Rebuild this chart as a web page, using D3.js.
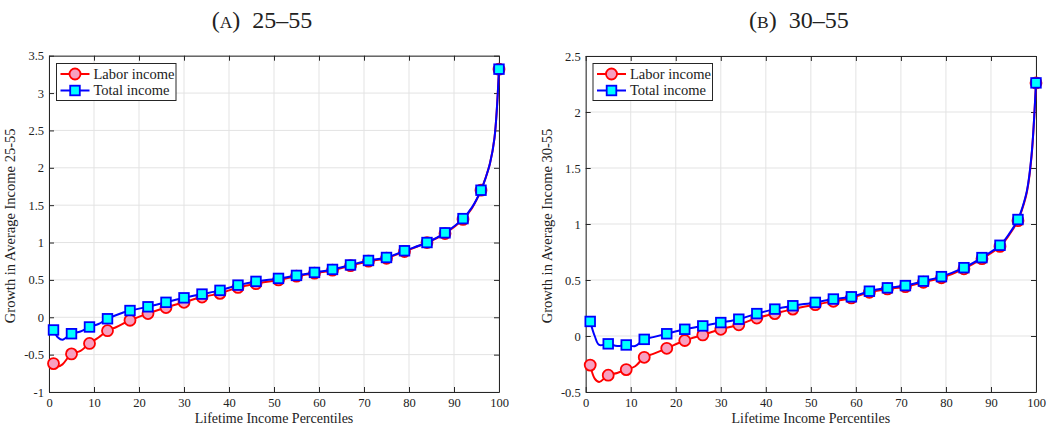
<!DOCTYPE html>
<html>
<head>
<meta charset="utf-8">
<script src="https://cdn.jsdelivr.net/npm/d3@7"></script>
<style>
  body { margin: 0; background: #fff; }
  svg { display: block; }
  text { font-family: "Liberation Serif", "DejaVu Serif", serif; fill: #222; }
</style>
</head>
<body>
<svg id="chart" width="1055" height="427"></svg>
<script>
// ---------- DATA ----------
const linePct = [1,2,3,5,7,9,11,13,15,18,22,26,30,34,38,42,46,51,55,59,63,67,71,75,79,84,88,92,94,96,97,98,99,100];
const markerPct = [1,5,9,13,18,22,26,30,34,38,42,46,51,55,59,63,67,71,75,79,84,88,92,96,100];

// Panel A: 25-55
const laborA = [-0.62,-0.66,-0.63,-0.49,-0.45,-0.35,-0.27,-0.18,-0.13,-0.04,0.05,0.13,0.20,0.27,0.32,0.40,0.45,0.50,0.55,0.59,0.63,0.69,0.75,0.79,0.88,1.00,1.12,1.31,1.46,1.70,1.86,2.06,2.40,3.32];
const totalA = [-0.17,-0.27,-0.30,-0.22,-0.19,-0.13,-0.09,-0.02,0.03,0.09,0.14,0.20,0.26,0.31,0.36,0.43,0.48,0.52,0.56,0.60,0.64,0.70,0.76,0.80,0.89,1.00,1.13,1.32,1.47,1.70,1.86,2.06,2.40,3.32];

// Panel B: 30-55
const laborB = [-0.26,-0.38,-0.41,-0.35,-0.33,-0.30,-0.27,-0.19,-0.16,-0.11,-0.04,0.01,0.06,0.10,0.16,0.20,0.24,0.28,0.31,0.34,0.39,0.42,0.44,0.48,0.52,0.60,0.69,0.80,0.90,1.03,1.14,1.29,1.60,2.26];
const totalB = [0.13,0.00,-0.08,-0.07,-0.09,-0.08,-0.09,-0.03,-0.01,0.02,0.06,0.09,0.12,0.15,0.20,0.24,0.27,0.30,0.33,0.35,0.40,0.43,0.45,0.49,0.53,0.61,0.70,0.81,0.91,1.04,1.15,1.30,1.61,2.26];

const xTicks = [0,10,20,30,40,50,60,70,80,90,100];
const yTicksA = [-1,-0.5,0,0.5,1,1.5,2,2.5,3,3.5];
const yTicksB = [-0.5,0,0.5,1,1.5,2,2.5];
const seriesNames = ["Labor income","Total income"];
const titles = [["A","25\u201355"],["B","30\u201355"]];
const yLabels = ["Growth in Average Income 25-55","Growth in Average Income 30-55"];
const xLabel = "Lifetime Income Percentiles";

// ---------- DRAW ----------
const svg = d3.select("#chart");
const fmt = v => String(v);

function panel(cfg) {
  const {left, right, top, bottom, yDomain, yTicks, labor, total, title, yLabel, legendX} = cfg;
  const x = d3.scaleLinear().domain([0,100]).range([left,right]);
  const y = d3.scaleLinear().domain(yDomain).range([bottom,top]);
  const g = svg.append("g");

  // grid
  g.append("g").selectAll("line").data(xTicks).join("line")
    .attr("x1", d => x(d)).attr("x2", d => x(d)).attr("y1", top).attr("y2", bottom)
    .attr("stroke", "#e3e3e3").attr("stroke-width", 1);
  g.append("g").selectAll("line").data(yTicks).join("line")
    .attr("x1", left).attr("x2", right).attr("y1", d => y(d)).attr("y2", d => y(d))
    .attr("stroke", "#e3e3e3").attr("stroke-width", 1);

  // axes (ticks inward, mirrored)
  const ax = [
    d3.axisBottom(x).tickValues(xTicks).tickFormat(fmt).tickSizeInner(-5).tickSizeOuter(0).tickPadding(6),
    d3.axisTop(x).tickValues(xTicks).tickFormat("").tickSizeInner(-5).tickSizeOuter(0),
    d3.axisLeft(y).tickValues(yTicks).tickFormat(fmt).tickSizeInner(-5).tickSizeOuter(0).tickPadding(5),
    d3.axisRight(y).tickValues(yTicks).tickFormat("").tickSizeInner(-5).tickSizeOuter(0)
  ];
  const tr = [`translate(0,${bottom})`,`translate(0,${top})`,`translate(${left},0)`,`translate(${right},0)`];
  ax.forEach((a,i) => {
    const ag = g.append("g").attr("transform", tr[i]).call(a);
    ag.select(".domain").attr("stroke", "#262626").attr("stroke-width", 1);
    ag.selectAll(".tick line").attr("stroke", "#262626");
    ag.selectAll("text").attr("font-family", "'Liberation Serif', serif").attr("font-size", 12.5).attr("fill", "#262626");
  });

  // lines
  const mk = vals => linePct.map((p,i) => [p, vals[i]]);
  const line = d3.line().x(d => x(d[0])).y(d => y(d[1])).curve(d3.curveCatmullRom.alpha(0.5));
  const mset = new Set(markerPct);
  const seriesData = [
    {vals: labor, color: "#ff0000", fill: "#f7a0c0", shape: "circle"},
    {vals: total, color: "#0000ff", fill: "#00ffff", shape: "square"}
  ];
  seriesData.forEach(s => {
    const pts = mk(s.vals);
    g.append("path").datum(pts).attr("d", line).attr("fill", "none")
      .attr("stroke", s.color).attr("stroke-width", 2);
    const mp = pts.filter(d => mset.has(d[0]));
    if (s.shape === "circle") {
      g.append("g").selectAll("circle").data(mp).join("circle")
        .attr("cx", d => x(d[0])).attr("cy", d => y(d[1])).attr("r", 5.5)
        .attr("fill", s.fill).attr("stroke", s.color).attr("stroke-width", 1.8);
    } else {
      g.append("g").selectAll("rect").data(mp).join("rect")
        .attr("x", d => x(d[0]) - 4.8).attr("y", d => y(d[1]) - 4.8)
        .attr("width", 9.6).attr("height", 9.6)
        .attr("fill", s.fill).attr("stroke", s.color).attr("stroke-width", 1.8);
    }
  });

  // legend
  const lg = g.append("g").attr("transform", `translate(${legendX},63.5)`);
  lg.append("rect").attr("width", 119.5).attr("height", 37).attr("fill", "#fff")
    .attr("stroke", "#262626").attr("stroke-width", 1);
  seriesData.forEach((s,i) => {
    const yy = 10.5 + i*16.5;
    lg.append("line").attr("x1", 4).attr("x2", 33).attr("y1", yy).attr("y2", yy)
      .attr("stroke", s.color).attr("stroke-width", 2);
    if (s.shape === "circle") {
      lg.append("circle").attr("cx", 18.5).attr("cy", yy).attr("r", 5.5)
        .attr("fill", s.fill).attr("stroke", s.color).attr("stroke-width", 1.8);
    } else {
      lg.append("rect").attr("x", 13.7).attr("y", yy - 4.8).attr("width", 9.6).attr("height", 9.6)
        .attr("fill", s.fill).attr("stroke", s.color).attr("stroke-width", 1.8);
    }
    lg.append("text").attr("x", 37).attr("y", yy + 4.6).attr("font-size", 14.5)
      .attr("fill", "#111").text(seriesNames[i]);
  });

  // title
  const t = svg.append("text").attr("x", (left+right)/2 - 12).attr("y", 28)
    .attr("text-anchor", "middle").attr("font-size", 24).attr("fill", "#111");
  t.append("tspan").text("(");
  t.append("tspan").attr("font-size", 17.5).text(title[0]);
  t.append("tspan").text(")\u2002" + title[1]);

  // axis labels
  svg.append("text").attr("x", (left+right)/2).attr("y", 423).attr("text-anchor", "middle")
    .attr("font-size", 14).attr("fill", "#262626").text(xLabel);
  svg.append("text").attr("transform", `translate(${left-34},${(top+bottom)/2 + 2}) rotate(-90)`)
    .attr("text-anchor", "middle").attr("font-size", 14.5).attr("fill", "#262626").text(yLabel);
}

panel({left: 49, right: 499, top: 55.7, bottom: 392, yDomain: [-1,3.5], yTicks: yTicksA,
       labor: laborA, total: totalA, title: titles[0], yLabel: yLabels[0], legendX: 56.5});
panel({left: 585.7, right: 1036, top: 56, bottom: 392, yDomain: [-0.5,2.5], yTicks: yTicksB,
       labor: laborB, total: totalB, title: titles[1], yLabel: yLabels[1], legendX: 593});
</script>
</body>
</html>
